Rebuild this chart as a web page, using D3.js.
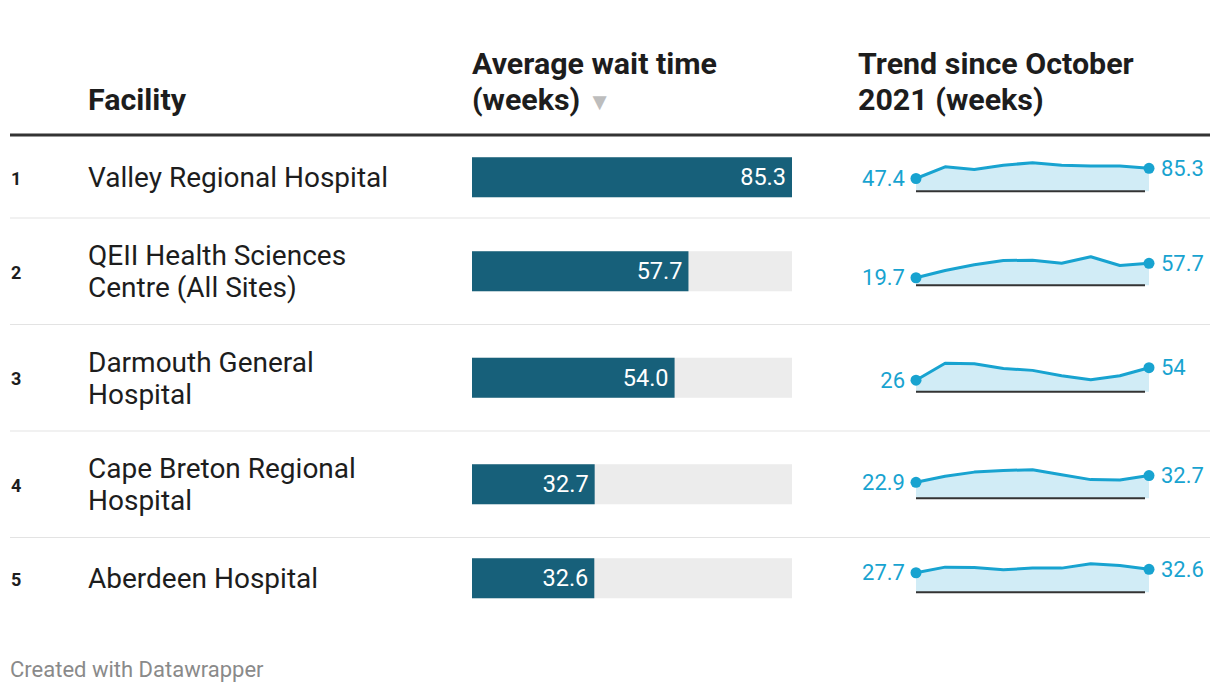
<!DOCTYPE html>
<html><head><meta charset="utf-8">
<script src="https://cdn.jsdelivr.net/npm/d3@7"></script>
<style>
body{margin:0;background:#fff;font-family:Roboto,"Noto Sans",sans-serif;}
</style></head>
<body><svg id="c" width="1220" height="694"></svg>
<script>
const facilities = ["Valley Regional Hospital","QEII Health Sciences Centre (All Sites)","Darmouth General Hospital","Cape Breton Regional Hospital","Aberdeen Hospital"];
const waitTimes = [85.3, 57.7, 54.0, 32.7, 32.6];
const waitLabels = ["85.3","57.7","54.0","32.7","32.6"];
const trend1 = [47.4, 91, 81, 97, 106, 97, 94, 94, 85.3];
const trend2 = [19.7, 39, 54, 65, 66, 58, 75, 52, 57.7];
const trend3 = [26, 64, 63, 52, 48, 36, 27, 36, 54];
const trend4 = [22.9, 31.7, 37.6, 40, 41, 33.7, 26.8, 26.3, 32.7];
const trend5 = [27.7, 35.7, 35.2, 32, 34.3, 34.3, 40.5, 38, 32.6];
const trends = [trend1, trend2, trend3, trend4, trend5];
const firstLabels = ["47.4","19.7","26","22.9","27.7"];
const lastLabels = ["85.3","57.7","54","32.7","32.6"];

const svg = d3.select("#c");
const textCol = "#1d1d1d";
const nameSize = 28;

// headers
const hdr = svg.append("g").attr("font-weight",700).attr("font-size",30.4).attr("fill",textCol);
hdr.append("text").attr("x",88).attr("y",110).text("Facility");
hdr.append("text").attr("x",472).attr("y",74).text("Average wait time");
const h2 = hdr.append("text").attr("x",472).attr("y",110);
h2.append("tspan").text("(weeks) ");
h2.append("tspan").attr("fill","#bdbdbd").attr("font-size",24).text("▼");
hdr.append("text").attr("x",858).attr("y",74).text("Trend since October");
hdr.append("text").attr("x",858).attr("y",110).text("2021 (weeks)");

svg.append("rect").attr("x",10).attr("y",133.5).attr("width",1200).attr("height",3).attr("fill","#333");

const x = d3.scaleLinear().domain([0, d3.max(waitTimes)]).range([0, 320]);
const sx = d3.scaleLinear().domain([0, 8]).range([916, 1149]);

function wrap(str){
  const probe = svg.append("text").attr("font-size",nameSize).attr("visibility","hidden");
  const words = str.split(" ");
  let lines = [], cur = [];
  words.forEach(w=>{
    probe.text(cur.concat([w]).join(" "));
    if(probe.node().getComputedTextLength() > 312 && cur.length){ lines.push(cur.join(" ")); cur=[w]; }
    else cur.push(w);
  });
  lines.push(cur.join(" "));
  probe.remove();
  return lines;
}

let rowY = 136.5;
facilities.forEach((f,i)=>{
  const lines = wrap(f);
  const h = lines.length === 1 ? 81.5 : 106.5;
  const rc = rowY + h/2;
  if(i>0) svg.append("rect").attr("x",10).attr("y",rowY-0.5).attr("width",1200).attr("height",1).attr("fill","#e3e3e3");
  // rank
  svg.append("text").attr("x",11).attr("y",rc+1).attr("dy","0.35em").attr("font-size",18).attr("font-weight",700).attr("fill",textCol).text(i+1);
  // name
  const t = svg.append("text").attr("x",88).attr("font-size",nameSize).attr("fill",textCol);
  const lh = 32;
  lines.forEach((l,k)=>{
    t.append("tspan").attr("x",88).attr("y", rc - (lines.length-1)*lh/2 + k*lh).attr("dy","0.35em").text(l);
  });
  // bar
  svg.append("rect").attr("x",472).attr("y",rc-20).attr("width",320).attr("height",40).attr("fill","#ececec");
  svg.append("rect").attr("x",472).attr("y",rc-20).attr("width",x(waitTimes[i])).attr("height",40).attr("fill","#17607a");
  svg.append("text").attr("x",472+x(waitTimes[i])-6).attr("y",rc).attr("dy","0.35em").attr("text-anchor","end").attr("font-size",23.5).attr("fill","#fff").text(waitLabels[i]);
  // sparkline
  const data = trends[i];
  const base = rc + 14;
  const sy = d3.scaleLinear().domain([0, d3.max(data)]).range([base, base-28.5]);
  const area = d3.area().x((d,k)=>sx(k)).y0(base).y1(d=>sy(d));
  const line = d3.line().x((d,k)=>sx(k)).y(d=>sy(d));
  svg.append("path").attr("d",area(data)).attr("fill","#d1ecf6");
  svg.append("line").attr("x1",916).attr("x2",1145).attr("y1",base).attr("y2",base).attr("stroke","#333").attr("stroke-width",2);
  svg.append("path").attr("d",line(data)).attr("fill","none").attr("stroke","#18a3d0").attr("stroke-width",3).attr("stroke-linejoin","round");
  const n = data.length-1;
  [0,n].forEach(k=>svg.append("circle").attr("cx",sx(k)).attr("cy",sy(data[k])).attr("r",5.5).attr("fill","#18a3d0"));
  svg.append("text").attr("x",905).attr("y",sy(data[0])).attr("dy","0.35em").attr("text-anchor","end").attr("font-size",22).attr("fill","#18a3d0").text(firstLabels[i]);
  svg.append("text").attr("x",1161).attr("y",sy(data[n])).attr("dy","0.35em").attr("font-size",22).attr("fill","#18a3d0").text(lastLabels[i]);
  rowY += h;
});

svg.append("text").attr("x",10).attr("y",677).attr("font-size",22).attr("fill","#8a8a8a").text("Created with Datawrapper");
</script></body></html>
